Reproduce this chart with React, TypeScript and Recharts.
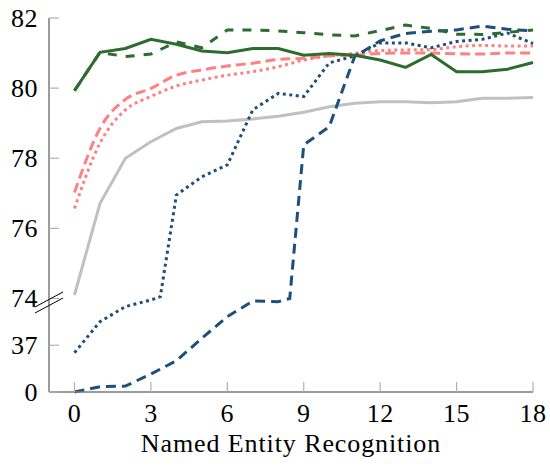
import { LineChart, Line, XAxis, YAxis } from "recharts";

// x positions (training steps) shared by most series
const steps = [0, 1, 2, 3, 4, 5, 6, 7, 8, 9, 10, 11, 12, 13, 14, 15, 16, 17, 18];

const greenSolid = [79.93, 81.02, 81.13, 81.39, 81.25, 81.06, 81.01, 81.13, 81.13, 80.94, 80.99, 80.94, 80.8, 80.59, 80.96, 80.47, 80.47, 80.54, 80.73];
const greenDashed = [79.93, 81.02, 80.9, 80.97, 81.32, 81.15, 81.66, 81.66, 81.63, 81.58, 81.52, 81.49, 81.64, 81.8, 81.7, 81.54, 81.53, 81.59, 81.66];
const pinkDashed = [77.02, 78.85, 79.68, 79.99, 80.37, 80.52, 80.63, 80.71, 80.82, 80.85, 80.92, 80.94, 80.99, 81.0, 81.0, 80.98, 80.97, 81.0, 81.0];
const pinkDotted = [76.57, 78.43, 79.38, 79.76, 80.06, 80.23, 80.37, 80.47, 80.61, 80.8, 80.92, 80.99, 81.07, 81.09, 81.1, 81.18, 81.22, 81.2, 81.2];
const graySolid = [74.1, 76.71, 78.0, 78.47, 78.85, 79.04, 79.06, 79.12, 79.2, 79.31, 79.47, 79.57, 79.61, 79.61, 79.58, 79.61, 79.71, 79.71, 79.73];

// the blue series cross the axis break, so they carry a few extra x positions
const blueDottedX = [0, 1, 2, 3, 3.37, 4, 5, 6, 7, 8, 9, 10, 11, 12, 13, 14, 15, 16, 17, 18];
const blueDotted = [31.1, 55.6, 67.6, 72.8, 74.05, 76.95, 77.47, 77.81, 79.38, 79.85, 79.76, 80.72, 80.92, 81.29, 81.29, 81.15, 81.33, 81.39, 81.57, 81.27];
const blueDashedX = [0, 1, 2, 3, 4, 5, 6, 7, 8, 8.45, 9, 10, 11, 12, 13, 14, 15, 16, 17, 18];
const blueDashed = [0, 4.2, 4.7, 14.2, 24.8, 42.5, 59.6, 72.0, 71.5, 74.0, 78.38, 78.9, 80.9, 81.35, 81.56, 81.62, 81.66, 81.77, 81.68, 81.63];

const xTicks = [0, 3, 6, 9, 12, 15, 18];
const yTickValues = [0, 37, 74, 76, 78, 80, 82];

// broken axis: 0..74 squeezed, 74..82 stretched
const BREAK = 74;
const toAxis = (v: number) => (v <= BREAK ? v / 37 : 2 + (v - BREAK) * 0.75);

const build = (xs: number[], ys: number[]) => xs.map((x, i) => ({ x, y: toAxis(ys[i]) }));

const FONT = "'Liberation Serif', serif";
const GREEN = "#2e6b2e";
const PINK = "#ff8080";
const GRAY = "#c0c0c0";
const BLUE = "#1f4e79";

const labelFor = (t: number) => {
    const hit = yTickValues.find((v) => Math.abs(toAxis(v) - t) < 1e-6);
    return hit === undefined ? "" : String(hit);
};

const YTick = (props: any) => {
    const { y, payload } = props;
    return (
        <g>
            <line x1={49} x2={59} y1={y} y2={y} stroke="#b0b0b0" strokeWidth={1.2} />
            <text x={38} y={y} textAnchor="end" dominantBaseline="central" fontSize={26} fontFamily={FONT} letterSpacing={0.5} fill="#000">
                {labelFor(payload.value)}
            </text>
        </g>
    );
};

const XTick = (props: any) => {
    const { x, payload } = props;
    return (
        <g>
            <line x1={x} x2={x} y1={392} y2={382} stroke="#b0b0b0" strokeWidth={1.2} />
            <text x={x} y={413} textAnchor="middle" dominantBaseline="central" fontSize={26} fontFamily={FONT} letterSpacing={0.5} fill="#000">
                {payload.value}
            </text>
        </g>
    );
};

export default function App() {
    return (
        <div style={{ position: "absolute", left: 0, top: 0, width: 550, height: 472 }}>
            <LineChart width={550} height={472} margin={{ top: 18, right: 17, left: 0, bottom: 0 }}>
                <XAxis
                    type="number"
                    dataKey="x"
                    domain={[-1, 18]}
                    ticks={xTicks}
                    height={80}
                    axisLine={{ stroke: "#7a7a7a", strokeWidth: 1.5 }}
                    tickLine={false}
                    tick={<XTick />}
                    label={{ value: "Named Entity Recognition", position: "insideBottom", offset: 20, fontSize: 26, fontFamily: FONT, letterSpacing: 0.9, fill: "#000" }}
                />
                <YAxis
                    type="number"
                    domain={[0, 8]}
                    ticks={yTickValues.map(toAxis)}
                    width={49}
                    axisLine={{ stroke: "#7a7a7a", strokeWidth: 1.5 }}
                    tickLine={false}
                    tick={<YTick />}
                />
                <Line data={build(steps, graySolid)} dataKey="y" type="linear" stroke={GRAY} strokeWidth={3} dot={false} activeDot={false} isAnimationActive={false} />
                <Line data={build(steps, pinkDotted)} dataKey="y" type="monotone" stroke={PINK} strokeWidth={3} strokeDasharray="3 3.5" dot={false} activeDot={false} isAnimationActive={false} />
                <Line data={build(steps, pinkDashed)} dataKey="y" type="monotone" stroke={PINK} strokeWidth={3} strokeDasharray="10 5" dot={false} activeDot={false} isAnimationActive={false} />
                <Line data={build(blueDottedX, blueDotted)} dataKey="y" type="linear" stroke={BLUE} strokeWidth={3} strokeDasharray="3 3.5" dot={false} activeDot={false} isAnimationActive={false} />
                <Line data={build(blueDashedX, blueDashed)} dataKey="y" type="linear" stroke={BLUE} strokeWidth={3} strokeDasharray="10 6" dot={false} activeDot={false} isAnimationActive={false} />
                <Line data={build(steps, greenDashed)} dataKey="y" type="linear" stroke={GREEN} strokeWidth={3} strokeDasharray="9 9" dot={false} activeDot={false} isAnimationActive={false} />
                <Line data={build(steps, greenSolid)} dataKey="y" type="linear" stroke={GREEN} strokeWidth={3} dot={false} activeDot={false} isAnimationActive={false} />
            </LineChart>
            <svg width={550} height={472} style={{ position: "absolute", left: 0, top: 0, pointerEvents: "none" }}>
                <line x1={35} y1={307} x2={63} y2={292} stroke="#000" strokeWidth={1} />
                <line x1={35} y1={313} x2={63} y2={298} stroke="#000" strokeWidth={1} />
            </svg>
        </div>
    );
}
